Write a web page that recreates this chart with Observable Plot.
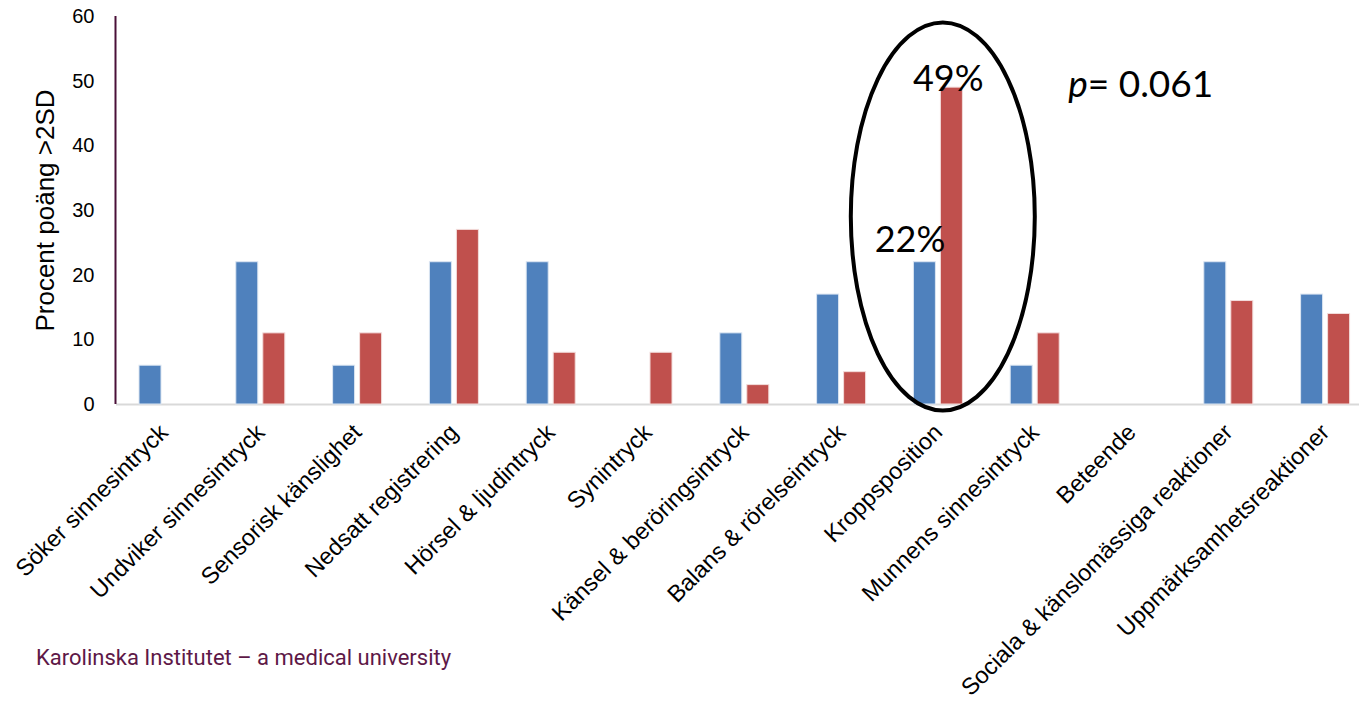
<!DOCTYPE html>
<html>
<head>
<meta charset="utf-8">
<script src="https://cdn.jsdelivr.net/npm/d3@7"></script>
<script src="https://cdn.jsdelivr.net/npm/@observablehq/plot@0.6"></script>
<style>
  html, body { margin: 0; padding: 0; background: #fff; }
  #wrap { position: relative; width: 1359px; height: 701px; }
  #caption { position: absolute; left: 36px; top: 645px; font-family: "Liberation Sans Narrow", "Roboto", sans-serif; font-size: 22px; color: #5e1847; }
</style>
</head>
<body>
<div id="wrap"><div id="chart"></div><div id="caption">Karolinska Institutet – a medical university</div></div>
<script>
const categories = [
  "Söker sinnesintryck",
  "Undviker sinnesintryck",
  "Sensorisk känslighet",
  "Nedsatt registrering",
  "Hörsel & ljudintryck",
  "Synintryck",
  "Känsel & beröringsintryck",
  "Balans & rörelseintryck",
  "Kroppsposition",
  "Munnens sinnesintryck",
  "Beteende",
  "Sociala & känslomässiga reaktioner",
  "Uppmärksamhetsreaktioner"
];
const seriesBlue = [6, 22, 6, 22, 22, 0, 11, 17, 22, 6, 0, 22, 17];
const seriesRed  = [0, 11, 11, 27, 8, 8, 3, 5, 49, 11, 0, 16, 14];
const yTicks = [0, 10, 20, 30, 40, 50, 60];
const yLabel = "Procent poäng >2SD";
const highlight = "Kroppsposition";
const highlightLabels = ["22%", "49%"];
const pText = "= 0.061";

const blueData = categories.map((c, i) => ({cat: c, v: seriesBlue[i]}));
const redData = categories.map((c, i) => ({cat: c, v: seriesRed[i]}));
const BW = 96.8;

const chart = Plot.plot({
  width: 1359,
  height: 701,
  marginLeft: 116,
  marginRight: 0,
  marginTop: 16,
  marginBottom: 297,
  style: {fontFamily: "Liberation Sans, Arial, sans-serif", background: "#fff"},
  x: {domain: categories, range: [115, 115 + BW * categories.length], padding: 0, round: false, axis: null},
  y: {domain: [0, 60], ticks: yTicks, axis: null},
  marks: [
    Plot.ruleY([0], {stroke: "#d9d9d9", strokeWidth: 2}),
    Plot.barY(blueData.filter(d => d.v > 0), {x: "cat", y: "v", fill: "#4f81bd", stroke: "#dce6f2", strokeWidth: 1, insetLeft: 24, insetRight: BW - 46}),
    Plot.barY(redData.filter(d => d.v > 0), {x: "cat", y: "v", fill: "#c0504d", stroke: "#f2dcdb", strokeWidth: 1, insetLeft: 51, insetRight: BW - 73}),
    Plot.axisY({ticks: yTicks, tickSize: 0, tickPadding: 22, fontSize: 20, label: null, fill: "#000"}),
    Plot.text(categories, {
      x: d => d, y: 0, text: d => d, rotate: -45, textAnchor: "end",
      fontSize: 23.5, fill: "#000", dx: 0, dy: 24
    }),
    Plot.text([yLabel], {frameAnchor: "left", textAnchor: "middle", rotate: -90, dx: -71, fontSize: 26, fill: "#000"}),
    Plot.text([{cat: highlight, v: seriesBlue[categories.indexOf(highlight)]}], {
      x: "cat", y: "v", text: () => highlightLabels[0], dx: 7, dy: -22, textAnchor: "end", fontSize: 36,
      fontFamily: "Lato, sans-serif", fill: "#000"
    }),
    Plot.text([{cat: highlight, v: seriesRed[categories.indexOf(highlight)]}], {
      x: "cat", y: "v", text: () => highlightLabels[1], dx: 10, dy: -8, textAnchor: "middle", fontSize: 36,
      fontFamily: "Lato, sans-serif", fill: "#000"
    })
  ]
});

const svg = d3.select(chart);
const xs = chart.scale("x");
const ys = chart.scale("y");

// y axis line
svg.append("line")
  .attr("x1", 115.5).attr("x2", 115.5)
  .attr("y1", ys.apply(60)).attr("y2", ys.apply(0))
  .attr("stroke", "#4a1038").attr("stroke-width", 2);

// highlight ellipse around Kroppsposition
const cx = xs.apply(highlight) + BW / 2 + 5;
svg.append("ellipse")
  .attr("cx", cx)
  .attr("cy", (ys.apply(59) + ys.apply(-1)) / 2)
  .attr("rx", 92)
  .attr("ry", (ys.apply(-1) - ys.apply(59)) / 2)
  .attr("fill", "none").attr("stroke", "#000").attr("stroke-width", 4);

// p-value annotation
const pt = svg.append("text")
  .attr("x", xs.apply("Munnens sinnesintryck") + 82)
  .attr("y", ys.apply(47.5))
  .attr("text-anchor", "start")
  .attr("font-family", "Lato, sans-serif")
  .attr("font-size", 37)
  .attr("fill", "#000");
pt.append("tspan").attr("font-style", "italic").text("p");
pt.append("tspan").text(pText);

document.getElementById("chart").appendChild(chart);
</script>
</body>
</html>
